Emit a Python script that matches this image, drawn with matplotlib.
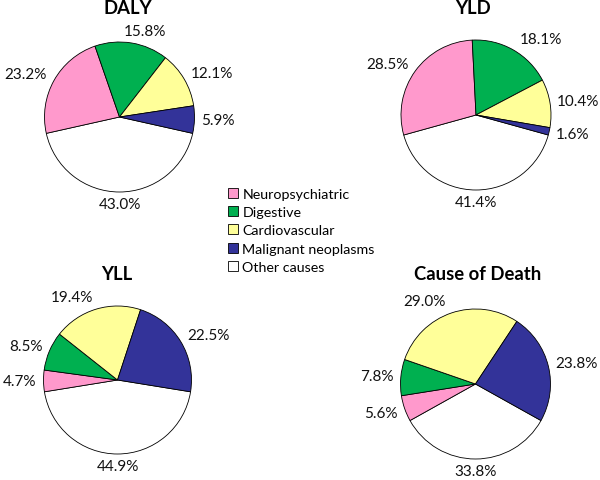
import matplotlib
matplotlib.use('Agg')
import matplotlib.pyplot as plt
import numpy as np
from matplotlib.patches import Patch

plt.rcParams['font.family'] = ['Lato', 'DejaVu Sans']

# ---- data ----
categories = ['Neuropsychiatric', 'Digestive', 'Cardiovascular',
              'Malignant neoplasms', 'Other causes']
titles = ['DALY', 'YLD', 'YLL', 'Cause of Death']
daly = [23.2, 15.8, 12.1, 5.9, 43.0]
yld = [28.5, 18.1, 10.4, 1.6, 41.4]
yll = [4.7, 8.5, 19.4, 22.5, 44.9]
death = [5.6, 7.8, 29.0, 23.8, 33.8]
series = [daly, yld, yll, death]
colors = ['#FF99CC', '#00B050', '#FFFF99', '#333399', '#FFFFFF']

W, H = 600, 481
fig = plt.figure(figsize=(W / 100, H / 100), dpi=100)

# pie centre x, centre y, radius, title x, title y  (pixels from top-left)
layout = [
    (119.5, 118, 75, 127.6, 8),
    (476, 116, 75, 472.7, 8),
    (117.5, 381, 74, 116.7, 275),
    (475.5, 385, 75, 478, 274),
]

anns = []
for vals, title, (cx, cy, r, tx, ty) in zip(series, titles, layout):
    ax = fig.add_axes([(cx - r) / W, (H - cy - r) / H, 2 * r / W, 2 * r / H])
    # order clockwise: Other first, then the rest; Other centred at the bottom
    order = [4, 0, 1, 2, 3]
    v = [vals[i] for i in order]
    c = [colors[i] for i in order]
    start = -90 + vals[4] * 1.8
    wedges, _ = ax.pie(v, colors=c, startangle=start, counterclock=False,
                       radius=1,
                       wedgeprops=dict(edgecolor='black', linewidth=0.6,
                                       clip_on=False))
    ax.set_xlim(-1, 1)
    ax.set_ylim(-1, 1)
    ax.set_aspect('equal')
    ax.axis('off')
    for w, val in zip(wedges, v):
        th = np.deg2rad((w.theta1 + w.theta2) / 2)
        a = ax.annotate(f'{val:.1f}%', xy=(np.cos(th), np.sin(th)),
                        xytext=(0, 0), textcoords='offset pixels',
                        ha='center', va='center', fontsize=11,
                        color='#111111', annotation_clip=False)
        anns.append((a, th))
    fig.text(tx / W, 1 - ty / H, title, ha='center', va='center',
             fontsize=13.3, fontweight='bold', color='black')

fig.canvas.draw()
renderer = fig.canvas.get_renderer()
gx, gy = 7, 5.5
for a, th in anns:
    bb = a.get_window_extent(renderer)
    hw, hh = bb.width / 2, bb.height / 2
    ox = (hw + gx) * np.clip(3 * np.cos(th), -1, 1)
    oy = (hh + gy) * np.sin(th)
    a.xyann = (ox, oy)

handles = [Patch(facecolor=col, edgecolor='black', linewidth=0.6)
           for col in colors]
fig.legend(handles, categories, loc='upper left',
           bbox_to_anchor=(228 / W, 1 - 188.5 / H), frameon=False,
           fontsize=10.3, handlelength=0.7, handleheight=0.7,
           handletextpad=0.3, labelspacing=0.45, borderpad=0,
           borderaxespad=0)

fig.savefig('out.png', dpi=100, facecolor='white')
